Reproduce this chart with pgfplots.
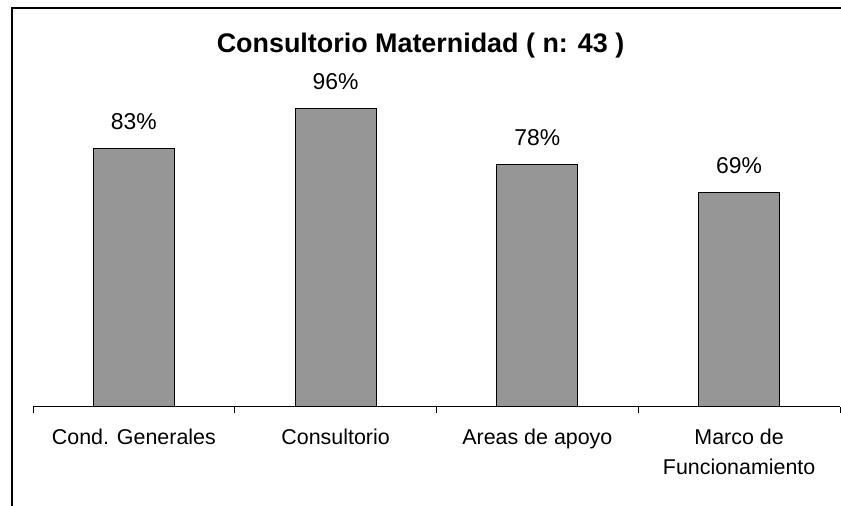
\documentclass[border=0pt]{standalone}
\usepackage{pgfplots}
\pgfplotsset{compat=1.18}
\usepackage{fontspec}
\setmainfont{Liberation Sans}
\definecolor{bargray}{RGB}{150,150,150}
\begin{document}
\begin{tikzpicture}[x=1bp,y=1bp]
\useasboundingbox (0,0) rectangle (841,506);
\draw[line width=1.6bp] (12,0) -- (12,498) -- (841,498);
\node[font=\bfseries\fontsize{27}{30}\selectfont, anchor=base] at (420.5,453) {Consultorio Maternidad ( n: 43 )};
\begin{axis}[
  at={(33bp,99bp)}, anchor=south west,
  scale only axis, width=807bp, height=311bp,
  xmin=-0.5, xmax=3.5, ymin=0, ymax=100,
  hide y axis,
  axis x line*=bottom,
  axis line style={line width=1bp, -},
  xtick={0,1,2,3},
  xticklabels={Cond. Generales, Consultorio, Areas de apoyo, {Marco de\\Funcionamiento}},
  xticklabel style={font=\fontsize{21.5}{30}\selectfont, align=center, anchor=north, yshift=-18.2bp},
  major tick length=0pt,
  extra x ticks={-0.5,0.5,1.5,2.5,3.5},
  extra x tick labels={},
  extra x tick style={major tick length=6.5bp, tick align=outside, tick style={line width=1bp, black}},
  ybar, bar width=81bp,
  point meta=y,
  nodes near coords={\pgfmathprintnumber[assume math mode=true]{\pgfplotspointmeta}\%},
  every node near coord/.append style={font=\fontsize{23}{26}\selectfont, anchor=base, yshift=19bp},
]
\addplot[fill=bargray, draw=black, line width=1.2bp] coordinates {(0,83) (1,96) (2,78) (3,69)};
\end{axis}
\end{tikzpicture}
\end{document}
